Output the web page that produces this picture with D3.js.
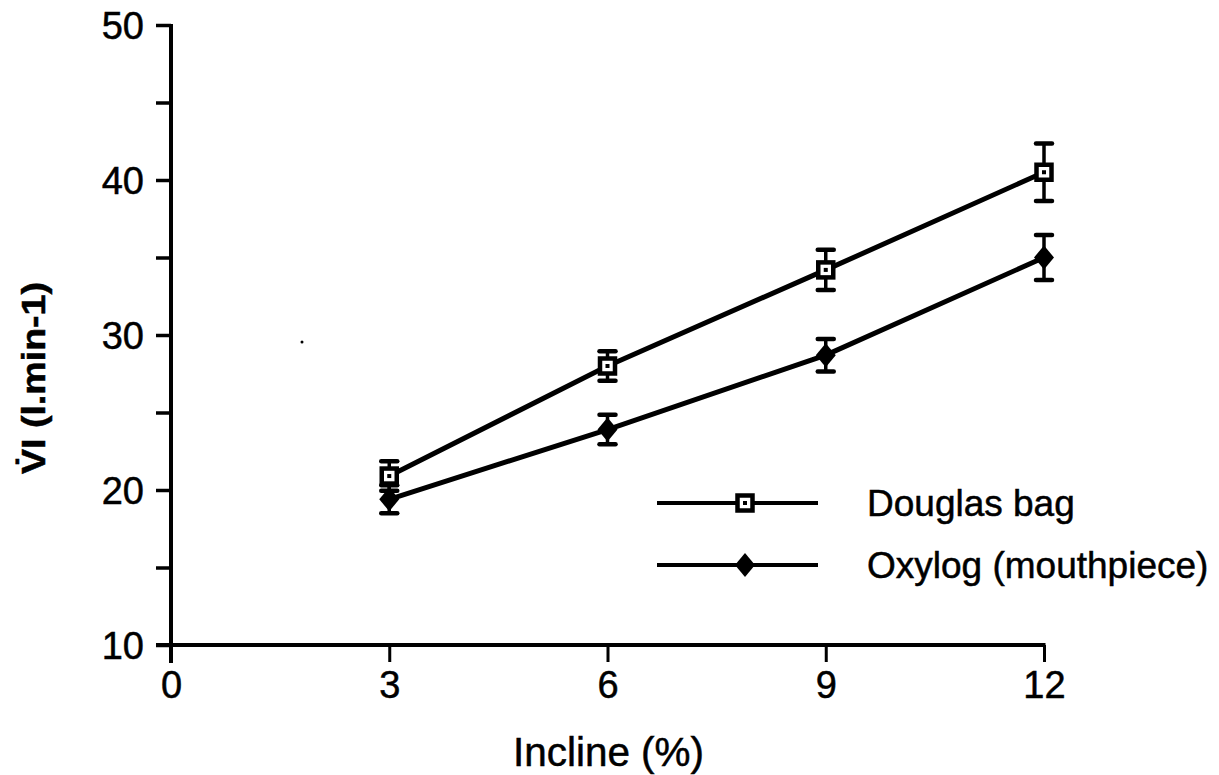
<!DOCTYPE html>
<html>
<head>
<meta charset="utf-8">
<script src="https://cdn.jsdelivr.net/npm/d3@7"></script>
<style>
  body { margin: 0; background: #fff; }
  svg text { font-family: "Liberation Sans", Arial, sans-serif; fill: #000; stroke: #000; stroke-width: 0.5; }
</style>
</head>
<body>
<div id="chart"></div>
<script>
// values
const incline = [3, 6, 9, 12];
const douglas = [20.9, 28.0, 34.2, 40.5];
const douglas_err = [0.95, 0.95, 1.3, 1.85];
const oxylog = [19.4, 23.9, 28.7, 35.0];
const oxylog_err = [0.9, 0.95, 1.05, 1.45];
const x_ticks = [0, 3, 6, 9, 12];
const y_ticks = [10, 15, 20, 25, 30, 35, 40, 45, 50];
const y_labels = [10, 20, 30, 40, 50];
const series_names = ["Douglas bag", "Oxylog (mouthpiece)"];

const width = 1219, height = 775;
const margin = {top: 25, right: 175, bottom: 130, left: 171};

const svg = d3.select("#chart").append("svg")
    .attr("width", width)
    .attr("height", height);

const x = d3.scaleLinear()
    .domain([0, 12])
    .range([margin.left, width - margin.right]);

const y = d3.scaleLinear()
    .domain([10, 50])
    .range([height - margin.bottom, margin.top]);

// axes
const yAxis = svg.append("g")
    .attr("transform", `translate(${margin.left},0)`)
    .call(d3.axisLeft(y).tickValues(y_ticks).tickSize(15)
        .tickFormat(d => y_labels.includes(d) ? d : ""));
yAxis.select(".domain").remove();
yAxis.selectAll(".tick line").attr("stroke", "#000").attr("stroke-width", 3.5);
yAxis.selectAll(".tick text").attr("font-size", 38).attr("x", -27).attr("dy", "0.36em");
yAxis.append("line")
    .attr("x1", 0).attr("x2", 0)
    .attr("y1", y(50) - 1).attr("y2", y(10) + 18)
    .attr("stroke", "#000").attr("stroke-width", 4);

const xAxis = svg.append("g")
    .attr("transform", `translate(0,${y(10)})`)
    .call(d3.axisBottom(x).tickValues(x_ticks).tickSize(17));
xAxis.select(".domain").remove();
xAxis.selectAll(".tick line").attr("stroke", "#000").attr("stroke-width", 3);
xAxis.selectAll(".tick text").attr("font-size", 38).attr("y", 26).attr("dy", "0.71em");
xAxis.append("line")
    .attr("x1", x(0) - 15).attr("x2", x(12) + 1.5)
    .attr("y1", 0).attr("y2", 0)
    .attr("stroke", "#000").attr("stroke-width", 4);

// axis titles
svg.append("text")
    .attr("x", (x(0) + x(12)) / 2 + 1)
    .attr("y", 766)
    .attr("text-anchor", "middle")
    .attr("font-size", 40)
    .attr("textLength", 191)
    .attr("lengthAdjust", "spacingAndGlyphs")
    .text("Incline (%)");

svg.append("text")
    .attr("transform", `translate(45,378) rotate(-90)`)
    .attr("text-anchor", "middle")
    .attr("font-size", 33)
    .attr("font-weight", "bold")
    .attr("textLength", 192)
    .attr("lengthAdjust", "spacingAndGlyphs")
    .text("V\u0307I (l.min-1)");

// series
const line = d3.line()
    .x(d => x(d[0]))
    .y(d => y(d[1]));

function draw_marker(g, kind) {
    if (kind === "square") {
        g.append("rect")
            .attr("x", -7.5).attr("y", -7.5).attr("width", 15).attr("height", 15)
            .attr("fill", "#fff").attr("stroke", "#000").attr("stroke-width", 4.5);
        g.append("rect")
            .attr("x", -2).attr("y", -2).attr("width", 4).attr("height", 4)
            .attr("fill", "#000");
    } else {
        g.append("path")
            .attr("d", "M0,-12 L10,0 L0,12 L-10,0 Z")
            .attr("fill", "#000");
    }
}

function draw_series(vals, errs, kind) {
    const pts = incline.map((d, i) => [d, vals[i]]);
    svg.append("path")
        .datum(pts)
        .attr("d", line)
        .attr("fill", "none")
        .attr("stroke", "#000")
        .attr("stroke-width", 5);

    const bars = svg.append("g");
    incline.forEach((d, i) => {
        const cx = x(d);
        const top = y(vals[i] + errs[i]);
        const bot = y(vals[i] - errs[i]);
        bars.append("line")
            .attr("x1", cx).attr("x2", cx).attr("y1", top).attr("y2", bot)
            .attr("stroke", "#000").attr("stroke-width", 3.5);
        [top, bot].forEach(yy => {
            bars.append("line")
                .attr("x1", cx - 8).attr("x2", cx + 8).attr("y1", yy).attr("y2", yy)
                .attr("stroke", "#000").attr("stroke-width", 4.5).attr("stroke-linecap", "round");
        });
        const m = bars.append("g").attr("transform", `translate(${cx},${y(vals[i])})`);
        draw_marker(m, kind);
    });
}

draw_series(oxylog, oxylog_err, "diamond");
draw_series(douglas, douglas_err, "square");

// legend
const legend = svg.append("g");
const kinds = ["square", "diamond"];
series_names.forEach((name, i) => {
    const ly = 503 + i * 62;
    legend.append("line")
        .attr("x1", 657).attr("x2", 818).attr("y1", ly).attr("y2", ly)
        .attr("stroke", "#000").attr("stroke-width", 4);
    const m = legend.append("g").attr("transform", `translate(745,${ly})`);
    draw_marker(m, kinds[i]);
    legend.append("text")
        .attr("x", 867).attr("y", ly + 13)
        .attr("font-size", 37)
        .text(name);
});

// stray dot in the scan
svg.append("circle").attr("cx", 302).attr("cy", 342).attr("r", 1.5).attr("fill", "#000");
</script>
</body>
</html>
